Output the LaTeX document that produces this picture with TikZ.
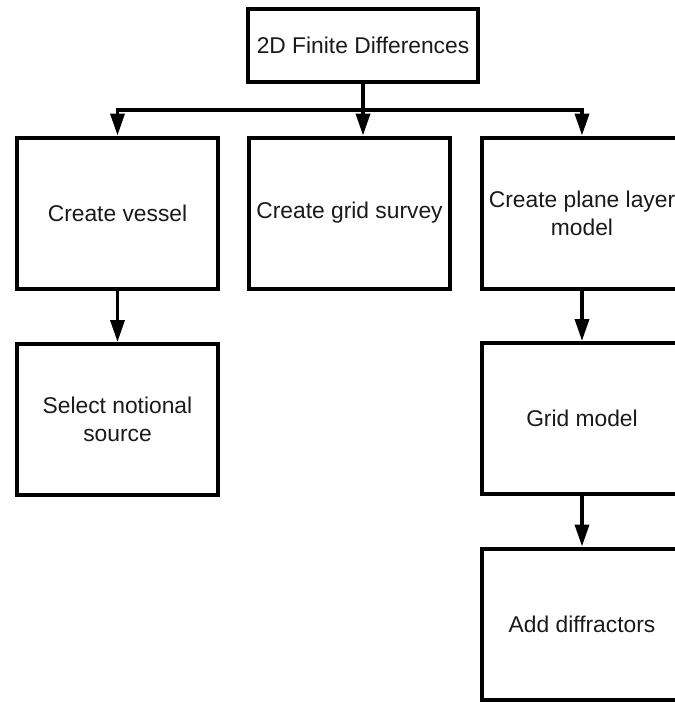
\documentclass[tikz,border=0pt]{standalone}
\usepackage{fontspec}
\setmainfont{Liberation Sans}
\usetikzlibrary{arrows.meta}
\definecolor{ink}{HTML}{1A1A1A}
\tikzset{
  box/.style={draw=black, line width=4pt, fill=white, align=center,
    minimum width=201pt, minimum height=151pt, inner sep=0pt,
    font=\fontsize{22.8}{28}\selectfont, text=ink},
  topbox/.style={box, minimum width=230pt, minimum height=73pt},
  link/.style={draw=black, line width=3.6pt,
    -{Triangle[length=22pt, width=14pt]}},
  plain/.style={draw=black, line width=3.6pt}
}
\begin{document}
\begin{tikzpicture}[x=1pt, y=-1pt]
  \useasboundingbox (0,0) rectangle (675,702);
  \clip (0,0) rectangle (675,702);

  % process boxes
  \node[topbox] (top) at (363,45.5) {2D Finite Differences};
  \node[box] (vessel) at (117.5,213) {Create vessel};
  \node[box] (survey) at (349.5,213) {Create grid survey};
  \node[box] (layer)  at (582,213) {Create plane layer\\model};
  \node[box] (source) at (117.5,419.5) {Select notional\\source};
  \node[box] (gridm)  at (582,418.5) {Grid model};
  \node[box] (diffr)  at (582,624) {Add diffractors};

  % branch bus below the top box
  \coordinate (bus) at (top.south |- 0,110);
  \draw[plain] (top.south) -- (bus);
  \draw[link] (bus) -- (top.south |- survey.north);
  \draw[link] (bus) -| (vessel.north);
  \draw[link] (bus) -| (layer.north);

  % chains below
  \draw[link] (vessel.south) -- (source.north);
  \draw[link] (layer.south) -- (gridm.north);
  \draw[link] (gridm.south) -- (diffr.north);
\end{tikzpicture}
\end{document}
